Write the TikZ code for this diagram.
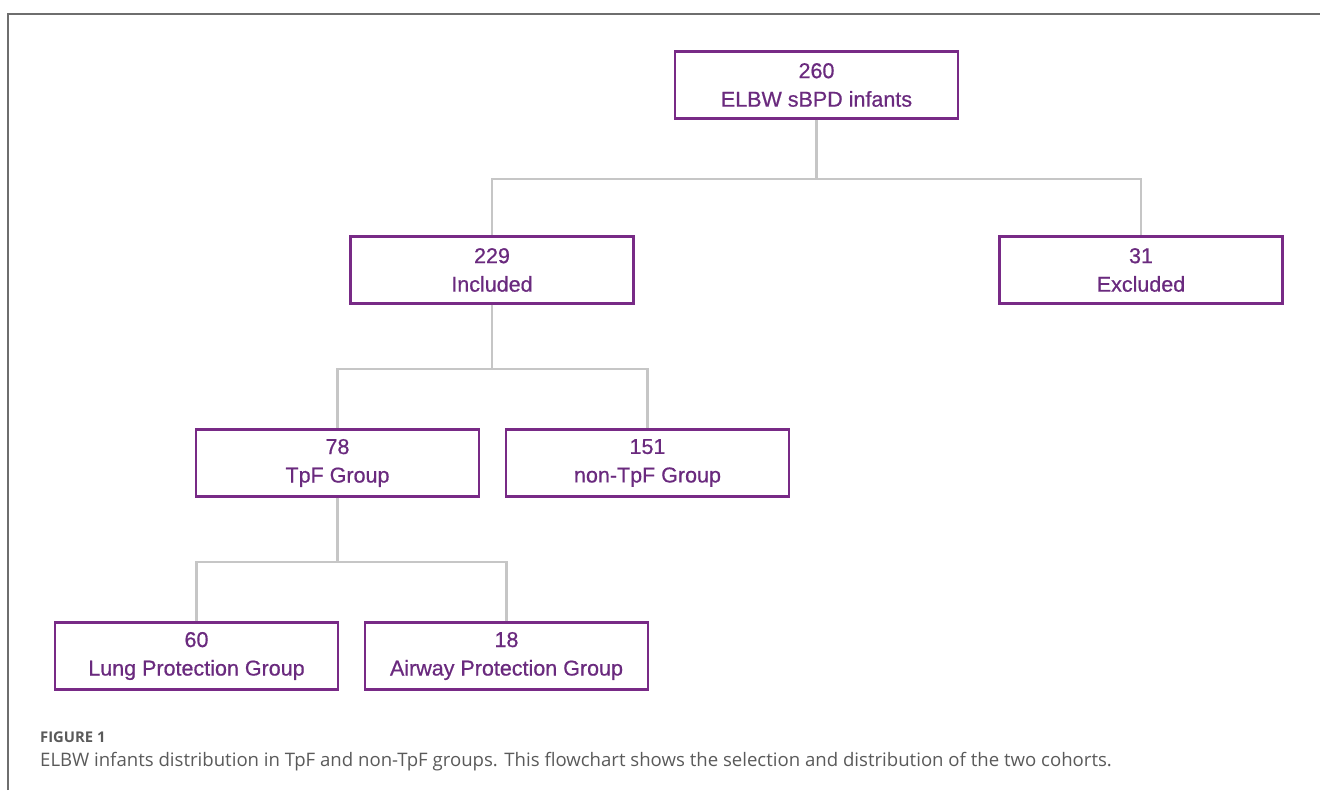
\documentclass[tikz,border=0pt]{standalone}
\usepackage{fontspec}
\setmainfont{Liberation Sans}
\newfontfamily\boxfont[FakeBold=0.7]{Liberation Sans}
\newfontfamily\capfont{Open Sans}
\usetikzlibrary{positioning}
\definecolor{boxpurple}{HTML}{782A86}
\definecolor{txtpurple}{HTML}{6A2A7E}
\definecolor{linkgray}{HTML}{C6C6C6}
\definecolor{framegray}{HTML}{6E6E6E}
\definecolor{capgray}{HTML}{5A5A5A}

\begin{document}
\begin{tikzpicture}[x=1pt,y=-1pt,
    box/.style={draw=boxpurple, line width=2.8pt, text=txtpurple,
        minimum width=283pt, minimum height=67pt, align=center,
        font=\boxfont\fontsize{21.5}{28.5}\selectfont},
    link/.style={draw=linkgray, line width=2.8pt},
    every node/.style={inner sep=0pt}]
    \useasboundingbox (0,0) rectangle (1320,790);
    \draw[framegray, line width=2pt] (7.5,790) -- (7.5,13.5) -- (1320,13.5);

    % boxes
    \node[box] (root) at (816.5,85) {260\\ELBW sBPD infants};
    \node[box] (incl) at (492,270) {229\\Included};
    \node[box] (excl) at (1141,270) {31\\Excluded};
    \node[box] (tpf) at (337.5,463) {78\\TpF Group};
    \node[box] (ntpf) at (647.5,463) {151\\non-TpF Group};
    \node[box] (lung) at (196.5,656) {60\\Lung Protection Group};
    \node[box] (air) at (506.5,656) {18\\Airway Protection Group};

    % connectors
    \draw[link] (root.south) -- ++(0,59) -| (incl.north);
    \draw[link] (root.south) -- ++(0,59) -| (excl.north);
    \draw[link] (incl.south) -- ++(0,64) -| (tpf.north);
    \draw[link] (incl.south) -- ++(0,64) -| (ntpf.north);
    \draw[link] (tpf.south) -- ++(0,64) -| (lung.north);
    \draw[link] (tpf.south) -- ++(0,64) -| (air.north);

    % caption
    \node[anchor=base west, text=capgray, font=\capfont\bfseries\fontsize{14.8}{17}\selectfont] (fig) at (40,742) {FIGURE 1};
    \node[anchor=base west, text=capgray, font=\capfont\fontsize{18.6}{21}\selectfont] (cap) at (40,766)
        {ELBW infants distribution in TpF and non-TpF groups. This flowchart shows the selection and distribution of the two cohorts.};
\end{tikzpicture}
\end{document}
